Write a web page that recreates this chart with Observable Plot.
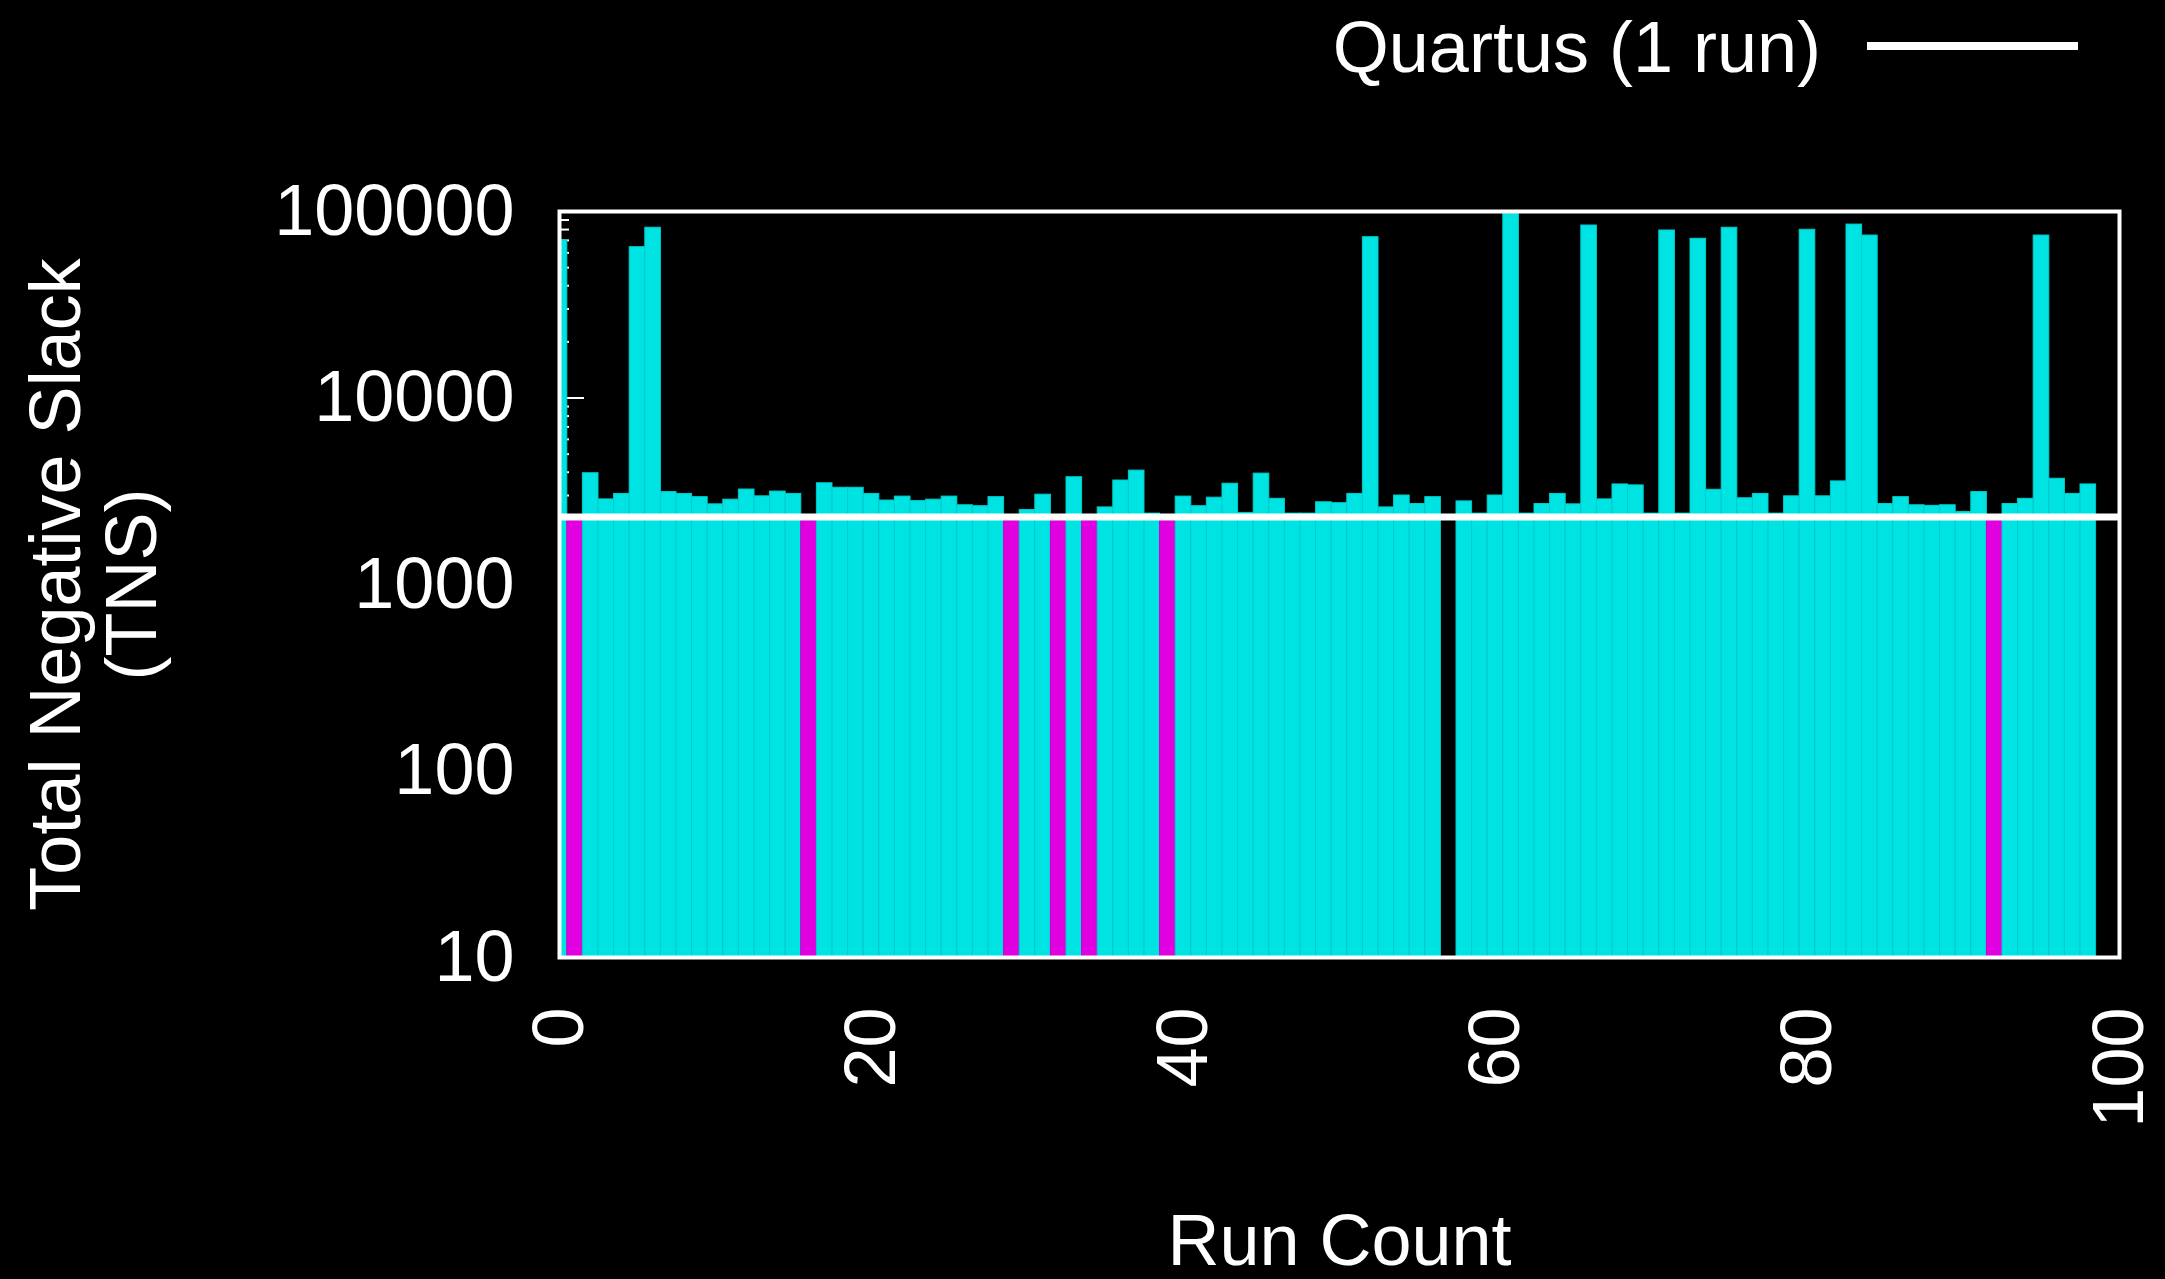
<!DOCTYPE html>
<html>
<head>
<meta charset="utf-8">
<script src="https://cdn.jsdelivr.net/npm/d3@7"></script>
<script src="https://cdn.jsdelivr.net/npm/@observablehq/plot@0.6"></script>
<style>
  html, body { margin: 0; background: #000; }
  body { width: 2165px; height: 1279px; overflow: hidden; font-family: "Liberation Sans", Arial, sans-serif; color: #fff; }
  #legend { position: relative; width: 2165px; height: 100px; }
  #legend .label { position: absolute; right: 344px; top: 11px; font-size: 72px; line-height: 1; white-space: nowrap; }
  #legend .swatch { position: absolute; left: 1867px; top: 42px; width: 211px; height: 8px; background: #fff; }
  #chart svg { display: block; }
</style>
</head>
<body>
<div id="legend"><span class="label">Quartus (1 run)</span><span class="swatch"></span></div>
<div id="chart"></div>
<script>
// Total negative slack of each run (index = run number); null = run without a result
const tns = [
  70000, 2200, 3950, 2860, 3060, 64400, 81800, 3130, 3060, 2940,
  2690, 2850, 3230, 2970, 3150, 3060, 2200, 3490, 3300, 3300,
  3060, 2820, 2960, 2800, 2850, 2960, 2660, 2630, 2940, 2200,
  2510, 3030, 2200, 3760, 2200, 2590, 3610, 4080, 2400, 2200,
  2960, 2630, 2920, 3470, 2420, 3930, 2880, 2400, 2400, 2760,
  2730, 3060, 72800, 2590, 3000, 2700, 2940, null, 2790, 2400,
  3000, 97000, 2400, 2700, 3060, 2690, 84100, 2860, 3440, 3400,
  2400, 79100, 2400, 71400, 3220, 81800, 2900, 3060, 2400, 2970,
  79800, 2970, 3570, 85100, 74300, 2700, 2940, 2660, 2640, 2660,
  2450, 3130, 2200, 2700, 2880, 74300, 3690, 3060, 3440, null
];

// TNS of a single Quartus run, drawn as the reference line
const quartusTNS = 2300;

// Axis ticks
const yTickValues = [10, 100, 1000, 10000, 100000];
const xTickValues = [0, 20, 40, 60, 80, 100];
const decades = [10, 100, 1000, 10000];
const minorSteps = [2, 3, 4, 5, 6, 7, 8, 9];
const minorTicks = decades.flatMap(d => minorSteps.map(m => d * m));

const cyan = "#00e3e3", cyanEdge = "#00cdcd";
const magenta = "#e000e0", magentaEdge = "#c800c8";

const rows = tns.map((v, i) => ({run: i, tns: v})).filter(d => d.tns != null);
const beatsQuartus = d => d.tns < quartusTNS;

const chart = Plot.plot({
  width: 2165,
  height: 1179,
  marginLeft: 559,
  marginRight: 46,
  marginTop: 111,
  marginBottom: 322,
  style: {
    background: "#000",
    color: "#fff",
    fontFamily: '"Liberation Sans", Arial, sans-serif',
    fontSize: "72px",
    overflow: "visible"
  },
  x: {domain: [0, 100]},
  y: {type: "log", domain: [10, 100000]},
  color: {type: "identity"},
  marks: [
    // inward tick marks along the left and bottom edges
    Plot.ruleY(minorTicks, {x1: 0, x2: 0, insetRight: -10, stroke: "#fff", strokeWidth: 2}),
    Plot.ruleY(yTickValues, {x1: 0, x2: 0, insetRight: -25, stroke: "#fff", strokeWidth: 2}),
    Plot.ruleX(xTickValues, {y1: 10, y2: 10, insetTop: -25, stroke: "#fff", strokeWidth: 2}),
    // one bar per run
    Plot.rect(rows, {
      x1: d => Math.max(0, d.run - 0.5),
      x2: d => Math.min(100, d.run + 0.5),
      y1: 10,
      y2: "tns",
      fill: d => beatsQuartus(d) ? magenta : cyan,
      stroke: d => beatsQuartus(d) ? magentaEdge : cyanEdge,
      strokeWidth: 1
    }),
    // Quartus reference
    Plot.ruleY([quartusTNS], {stroke: "#fff", strokeWidth: 7}),
    Plot.frame({stroke: "#fff", strokeWidth: 4}),
    Plot.axisY(yTickValues, {tickSize: 0, tickPadding: 45, tickFormat: d => String(d), fontSize: 72, label: null}),
    Plot.axisX(xTickValues, {tickSize: 0, tickPadding: 50, tickRotate: -90, fontSize: 72, label: null}),
    Plot.text(["Total Negative Slack\n(TNS)"], {
      text: d => d, frameAnchor: "left", dx: -466, rotate: -90,
      textAnchor: "middle", lineAnchor: "middle",
      lineHeight: 1.06, fontSize: 72, fill: "#fff"
    }),
    Plot.text(["Run Count"], {
      text: d => d, frameAnchor: "bottom", dy: 307, lineAnchor: "bottom",
      textAnchor: "middle", fontSize: 72, fill: "#fff"
    })
  ]
});

document.getElementById("chart").append(chart);
</script>
</body>
</html>
